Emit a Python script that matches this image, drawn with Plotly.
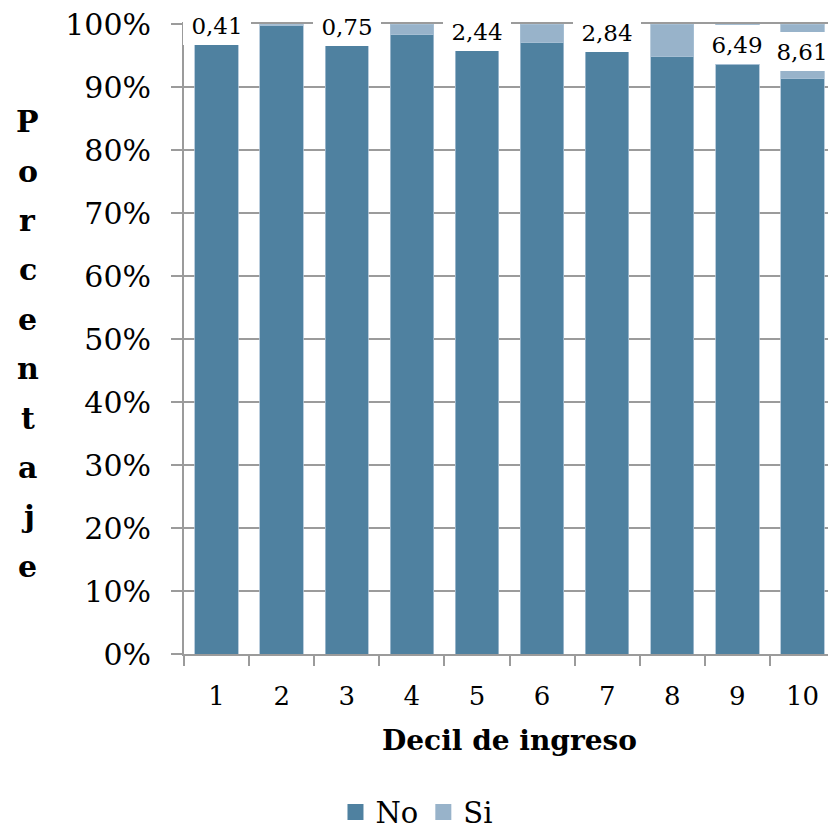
import plotly.graph_objects as go

# Share of households per income decil (percent)
deciles = ["1", "2", "3", "4", "5", "6", "7", "8", "9", "10"]
si_pct = [0.41, 0.2, 0.75, 1.6, 2.44, 2.9, 2.84, 5.1, 6.49, 8.61]
no_pct = [round(100 - v, 2) for v in si_pct]
labeled_deciles = ["1", "3", "5", "7", "9", "10"]

y_ticks = list(range(0, 101, 10))
y_tick_text = [f"{v}%" for v in y_ticks]

x_title = "Decil de ingreso"
y_title = "Porcentaje"
series = [("No", no_pct, "#4F81A0"), ("Si", si_pct, "#98B3CA")]

SERIF = "DejaVu Serif"
GRID = "#9B9B9B"

fig = go.Figure()
for name, vals, color in series:
    fig.add_trace(go.Bar(
        x=deciles, y=vals, name=name, showlegend=False,
        marker=dict(color=color, line=dict(color="#A9C1D4", width=0.8)),
        hoverinfo="skip",
    ))
for name, vals, color in series:
    # legend entry with a larger square swatch
    fig.add_trace(go.Scatter(
        x=[None], y=[None], mode="markers", name=name,
        marker=dict(symbol="square", size=20, color=color),
    ))

# value labels (Si share) on a white box centred on the Si segment
for i, (d, n, s) in enumerate(zip(deciles, no_pct, si_pct)):
    if d in labeled_deciles:
        fig.add_annotation(
            x=i, y=n + s / 2, xref="x", yref="y",
            text=f"{s:.2f}".replace(".", ","), showarrow=False,
            font=dict(family=SERIF, size=23, color="#000000"),
            bgcolor="#FFFFFF", borderwidth=0, borderpad=6,
            width=56, height=27, xanchor="center", yanchor="middle",
        )

# axis titles
fig.add_annotation(
    x=0.506, y=-0.138, xref="paper", yref="paper", text=f"<b>{x_title}</b>",
    showarrow=False, font=dict(family=SERIF, size=28, color="#000000"),
    xanchor="center", yanchor="middle",
)
plot_top, plot_h = 24.3, 630.0
for i, ch in enumerate(y_title):
    py = 122 + i * 49.4
    fig.add_annotation(
        x=-0.243, y=(plot_top + plot_h - py) / plot_h, xref="paper", yref="paper",
        text=f"<b>{ch}</b>", showarrow=False,
        font=dict(family=SERIF, size=30, color="#000000"),
        xanchor="center", yanchor="middle",
    )

fig.update_layout(
    barmode="stack", bargap=0.333,
    width=828, height=832,
    margin=dict(l=184, r=0, t=24, b=178, autoexpand=False),
    plot_bgcolor="#FFFFFF", paper_bgcolor="#FFFFFF",
    font=dict(family=SERIF, color="#000000"),
    showlegend=True,
    legend=dict(
        orientation="h", x=0.361, y=-0.251, xanchor="center", yanchor="middle",
        traceorder="normal",
        font=dict(family=SERIF, size=29, color="#000000"),
        bgcolor="rgba(0,0,0,0)", itemclick=False,
    ),
)
fig.update_xaxes(
    type="category", range=[-0.5, 9.392], tickson="boundaries",
    showline=True, linecolor=GRID, linewidth=2, mirror=True,
    ticks="outside", ticklen=10, tickwidth=2, tickcolor=GRID,
    tickfont=dict(family=SERIF, size=26, color="#000000"),
    ticklabelstandoff=18, showgrid=False, zeroline=False,
)
fig.update_yaxes(
    range=[0, 100], tickvals=y_ticks, ticktext=y_tick_text,
    showline=True, linecolor=GRID, linewidth=2,
    ticks="outside", ticklen=11, tickwidth=2, tickcolor=GRID,
    tickfont=dict(family=SERIF, size=30, color="#000000"),
    ticklabelstandoff=14, showgrid=True, gridcolor=GRID, gridwidth=2,
    zeroline=False,
)

fig.write_html("out.html")
